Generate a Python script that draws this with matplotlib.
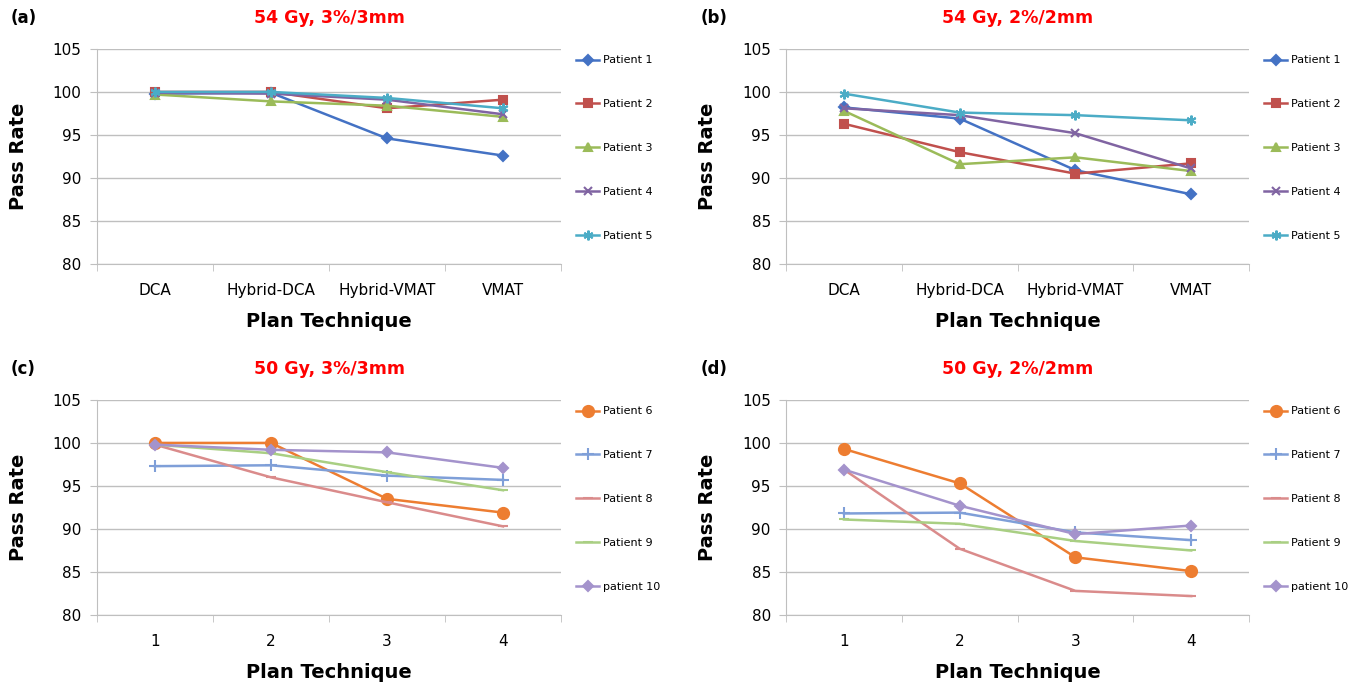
import matplotlib.pyplot as plt

# data
techniques = ['DCA', 'Hybrid-DCA', 'Hybrid-VMAT', 'VMAT']
plan_numbers = ['1', '2', '3', '4']

names_top = ['Patient 1', 'Patient 2', 'Patient 3', 'Patient 4', 'Patient 5']
names_bottom = ['Patient 6', 'Patient 7', 'Patient 8', 'Patient 9', 'patient 10']

# (a) 54 Gy, 3%/3mm
a_p1 = [99.8, 99.9, 94.6, 92.6]
a_p2 = [100.0, 100.0, 98.1, 99.1]
a_p3 = [99.7, 98.9, 98.4, 97.1]
a_p4 = [99.9, 99.8, 99.1, 97.4]
a_p5 = [100.0, 100.0, 99.3, 98.1]

# (b) 54 Gy, 2%/2mm
b_p1 = [98.2, 96.9, 90.9, 88.1]
b_p2 = [96.3, 93.0, 90.5, 91.7]
b_p3 = [97.8, 91.6, 92.4, 90.8]
b_p4 = [98.1, 97.3, 95.2, 91.1]
b_p5 = [99.8, 97.6, 97.3, 96.7]

# (c) 50 Gy, 3%/3mm
c_p6 = [100.0, 100.0, 93.5, 91.9]
c_p7 = [97.3, 97.4, 96.2, 95.7]
c_p8 = [99.8, 96.0, 93.1, 90.3]
c_p9 = [99.8, 98.8, 96.6, 94.5]
c_p10 = [99.8, 99.2, 98.9, 97.1]

# (d) 50 Gy, 2%/2mm
d_p6 = [99.3, 95.3, 86.7, 85.1]
d_p7 = [91.8, 91.9, 89.6, 88.7]
d_p8 = [96.9, 87.7, 82.8, 82.2]
d_p9 = [91.1, 90.6, 88.6, 87.5]
d_p10 = [96.9, 92.7, 89.4, 90.4]

top_styles = [('#4472C4', 'D', 5), ('#C0504D', 's', 6),
              ('#9BBB59', '^', 6), ('#8064A2', 'x', 6),
              ('#4BACC6', (6, 2, 0), 7)]
bottom_styles = [('#ED7D31', 'o', 8), ('#7F9FD8', '+', 8),
                 ('#DA8B8B', '_', 7), ('#A9CF83', '_', 7),
                 ('#A493CC', 'D', 5)]

fig = plt.figure(figsize=(13.52, 6.85), dpi=100)

panels = [
    ([0.0717, 0.6146, 0.3433, 0.314], '(a)', '54 Gy, 3%/3mm', techniques,
     [a_p1, a_p2, a_p3, a_p4, a_p5], names_top, top_styles),
    ([0.5814, 0.6146, 0.3425, 0.314], '(b)', '54 Gy, 2%/2mm', techniques,
     [b_p1, b_p2, b_p3, b_p4, b_p5], names_top, top_styles),
    ([0.0717, 0.1022, 0.3433, 0.314], '(c)', '50 Gy, 3%/3mm', plan_numbers,
     [c_p6, c_p7, c_p8, c_p9, c_p10], names_bottom, bottom_styles),
    ([0.5814, 0.1022, 0.3425, 0.314], '(d)', '50 Gy, 2%/2mm', plan_numbers,
     [d_p6, d_p7, d_p8, d_p9, d_p10], names_bottom, bottom_styles),
]

grid_col = '#BFBFBF'
x = [1, 2, 3, 4]

for rect, tag, title, cats, series, names, styles in panels:
    ax = fig.add_axes(rect)
    for vals, name, (col, mk, ms) in zip(series, names, styles):
        ax.plot(x, vals, color=col, lw=1.8, marker=mk, markersize=ms,
                markeredgewidth=1.5, label=name)
    ax.set_xlim(0.5, 4.5)
    ax.set_ylim(80, 105)
    ax.set_yticks(range(80, 106, 5))
    ax.set_xticks(x)
    ax.set_xticklabels(cats, fontsize=11)
    ax.set_xticks([0.5, 1.5, 2.5, 3.5, 4.5], minor=True)
    ax.tick_params(axis='x', which='major', length=0, pad=14)
    ax.tick_params(axis='x', which='minor', length=5, color=grid_col)
    ax.tick_params(axis='y', labelsize=11, length=5, color=grid_col, pad=6)
    ax.yaxis.grid(True, color=grid_col, lw=1)
    ax.set_axisbelow(True)
    for s in ['top', 'right']:
        ax.spines[s].set_visible(False)
    for s in ['left', 'bottom']:
        ax.spines[s].set_color(grid_col)
    ax.set_ylabel('Pass Rate', fontsize=14, fontweight='bold', labelpad=18)
    ax.set_xlabel('Plan Technique', fontsize=14, fontweight='bold', labelpad=10)
    ax.set_title(title, fontsize=12.5, fontweight='bold', color='#FF0000', pad=19)
    ax.text(-0.185, 1.143, tag, transform=ax.transAxes, fontsize=12,
            fontweight='bold', va='center', ha='left')
    ax.legend(loc='upper left', bbox_to_anchor=(1.025, 0.985), frameon=False,
              fontsize=8, labelspacing=3.05, handlelength=2.1,
              handletextpad=0.3, borderaxespad=0, borderpad=0.3)

fig.savefig('out.png', dpi=100)
